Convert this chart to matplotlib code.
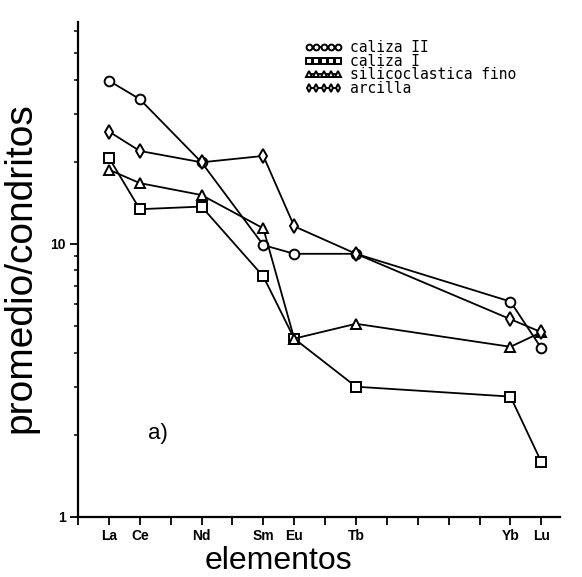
import matplotlib
matplotlib.use("Agg")
import matplotlib.pyplot as plt
from matplotlib.ticker import LogLocator, NullFormatter, FixedLocator, FixedFormatter

# REE patterns normalised to chondrites
elements = ["La", "Ce", "Nd", "Sm", "Eu", "Tb", "Yb", "Lu"]
atomic_num = [57, 58, 60, 62, 63, 65, 70, 71]

caliza_II = [39.6, 33.9, 19.9, 9.9, 9.2, 9.2, 6.15, 4.15]
caliza_I = [20.7, 13.4, 13.7, 7.6, 4.5, 3.0, 2.76, 1.59]
silicoclastica = [18.7, 16.7, 15.1, 11.4, 4.5, 5.1, 4.2, 4.75]
arcilla = [25.8, 21.9, 19.9, 21.0, 11.6, 9.2, 5.3, 4.75]

series = [
    ("caliza II", caliza_II, "o"),
    ("caliza I", caliza_I, "s"),
    ("silicoclastica fino", silicoclastica, "^"),
    ("arcilla", arcilla, "d"),
]

# all tick positions on the x axis (56..71), only some get a label
tick_pos = list(range(56, 72))
tick_lab = [elements[atomic_num.index(z)] if z in atomic_num else "" for z in tick_pos]

plt.rcParams["font.family"] = ["Liberation Sans", "DejaVu Sans"]

fig = plt.figure(figsize=(5.82, 5.77), dpi=100)
ax = fig.add_axes([0.134, 0.104, 0.828, 0.858])

for name, vals, mk in series:
    ax.plot(atomic_num, vals, color="black", lw=1.3, marker=mk, ms=7,
            mfc="white", mec="black", mew=1.4, label=name)

ax.set_yscale("log")
ax.set_ylim(1, 65)
ax.set_xlim(56, 71.6)

ax.spines["top"].set_visible(False)
ax.spines["right"].set_visible(False)
ax.spines["left"].set_linewidth(1.6)
ax.spines["bottom"].set_linewidth(1.6)

ax.yaxis.set_major_locator(FixedLocator([1, 10]))
ax.yaxis.set_major_formatter(FixedFormatter(["1", "10"]))
ax.yaxis.set_minor_locator(LogLocator(base=10, subs=range(2, 10)))
ax.yaxis.set_minor_formatter(NullFormatter())

ax.xaxis.set_major_locator(FixedLocator(tick_pos))
ax.xaxis.set_major_formatter(FixedFormatter(tick_lab))

ax.tick_params(axis="both", which="major", direction="out", length=6, width=1.3,
               labelsize=10, pad=3)
ax.tick_params(axis="y", which="minor", direction="out", length=3, width=1.1)
for lab in ax.get_xticklabels() + ax.get_yticklabels():
    lab.set_fontweight("bold")

ax.set_xlabel("elementos", fontsize=23)
ax.set_ylabel("promedio/condritos", fontsize=28)
ax.xaxis.set_label_coords(0.415, -0.058)
ax.yaxis.set_label_coords(-0.082, 0.503)

ax.text(0.165, 0.168, "a)", transform=ax.transAxes, fontsize=16,
        ha="center", va="center")

leg = ax.legend(loc="upper left", bbox_to_anchor=(0.455, 0.978), frameon=False,
                numpoints=5, markerscale=0.6, handlelength=2.6, handletextpad=0.5,
                labelspacing=-0.1, borderpad=0,
                prop={"family": "DejaVu Sans Mono", "size": 10.5})

fig.savefig("out.png", dpi=100)
